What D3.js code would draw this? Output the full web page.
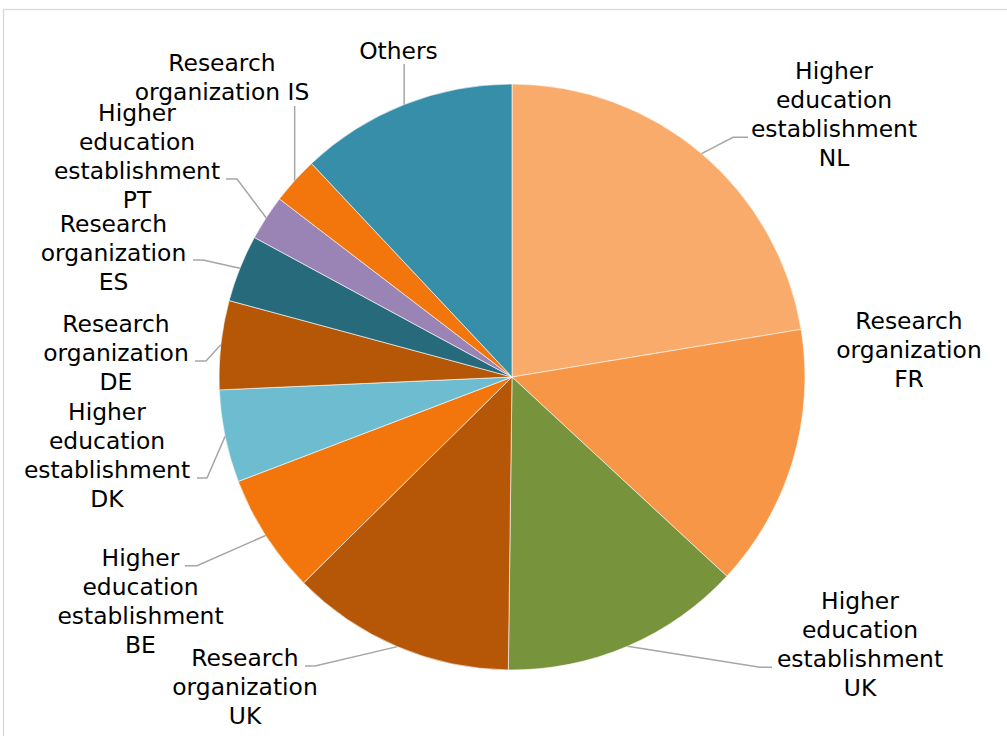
<!DOCTYPE html>
<html>
<head>
<meta charset="utf-8">
<script src="https://cdn.jsdelivr.net/npm/d3@7"></script>
<style>
  html, body { margin: 0; padding: 0; background: #fff; }
  svg { display: block; }
  text { font-family: Verdana, "DejaVu Sans", sans-serif; font-size: 23.4px; fill: #000; }
</style>
</head>
<body>
<svg id="chart" width="1007" height="736"></svg>
<script>
// Share of participants by organisation (percent), clockwise from 12 o'clock
const categories = [
  "Higher education establishment NL",
  "Research organization FR",
  "Higher education establishment UK",
  "Research organization UK",
  "Higher education establishment BE",
  "Higher education establishment DK",
  "Research organization DE",
  "Research organization ES",
  "Higher education establishment PT",
  "Research organization IS",
  "Others"
];
const values = [22.4, 14.5, 13.3, 12.4, 6.6, 5.1, 4.9, 3.7, 2.5, 2.6, 12.0];
const colors = ["#F8AB6B", "#F79646", "#77933C", "#B65708", "#F3760D", "#6DBCD0",
                "#B65708", "#276A7C", "#9A84B6", "#F3760D", "#378EA8"];

// Wrapped label text for each slice
const labelLines = [
  ["Higher", "education", "establishment", "NL"],
  ["Research", "organization", "FR"],
  ["Higher", "education", "establishment", "UK"],
  ["Research", "organization", "UK"],
  ["Higher", "education", "establishment", "BE"],
  ["Higher", "education", "establishment", "DK"],
  ["Research", "organization", "DE"],
  ["Research", "organization", "ES"],
  ["Higher", "education", "establishment", "PT"],
  ["Research", "organization IS"],
  ["Others"]
];

// Label placement: text centre x, first baseline, leader-line waypoints after the slice edge
const labelLayout = [
  { cx: 834,   y0: 79.3,  leader: [[733, 137.3], [748, 137.3]] },
  { cx: 909,   y0: 329.3, leader: null },
  { cx: 860,   y0: 609.3, leader: [[760, 667.3], [772, 667.3]] },
  { cx: 245,   y0: 666,   leader: [[315, 666], [305, 666]] },
  { cx: 140.5, y0: 566,   leader: [[197, 565.7], [185, 565.7]] },
  { cx: 107,   y0: 420,   leader: [[207, 478], [197, 478]] },
  { cx: 116,   y0: 331.7, leader: [[206, 361], [195, 361]] },
  { cx: 113.5, y0: 231.7, leader: [[203, 260], [193, 260]] },
  { cx: 137,   y0: 121,   leader: [[237, 179], [226, 179]] },
  { cx: 222,   y0: 71,    leader: "vertical", top: 106 },
  { cx: 398.5, y0: 59,    leader: "vertical", top: 64 }
];
const lineHeight = 29;

const svg = d3.select("#chart");

// Chart-area frame
svg.append("rect")
  .attr("x", 3.5).attr("y", 9.5)
  .attr("width", 1020).attr("height", 760)
  .attr("fill", "none")
  .attr("stroke", "#D9D9D9")
  .attr("stroke-width", 1.3);

const cx = 512, cy = 377, radius = 293;
const g = svg.append("g").attr("transform", `translate(${cx},${cy})`);

const pie = d3.pie().sort(null).value(d => d)(values);
const arc = d3.arc().innerRadius(0).outerRadius(radius);
const edge = d3.arc().innerRadius(radius).outerRadius(radius);

g.selectAll("path.slice")
  .data(pie)
  .join("path")
  .attr("class", "slice")
  .attr("d", arc)
  .attr("fill", (d, i) => colors[i])
  .attr("stroke", "#fff")
  .attr("stroke-width", 0.6);

// Leader lines from the slice edge to each label
const line = d3.line();
pie.forEach((d, i) => {
  const lay = labelLayout[i];
  if (!lay.leader) return;
  const [ex, ey] = edge.centroid(d);
  const start = [cx + ex, cy + ey];
  let pts;
  if (lay.leader === "vertical") {
    pts = [start, [start[0], lay.top]];
  } else {
    pts = [start, ...lay.leader];
  }
  svg.append("path")
    .attr("d", line(pts))
    .attr("fill", "none")
    .attr("stroke", "#A6A6A6")
    .attr("stroke-width", 1.5);
});

// Labels
labelLines.forEach((lines, i) => {
  const lay = labelLayout[i];
  const t = svg.append("text").attr("text-anchor", "middle");
  lines.forEach((s, k) => {
    t.append("tspan")
      .attr("x", lay.cx)
      .attr("y", lay.y0 + k * lineHeight)
      .text(s);
  });
});
</script>
</body>
</html>
